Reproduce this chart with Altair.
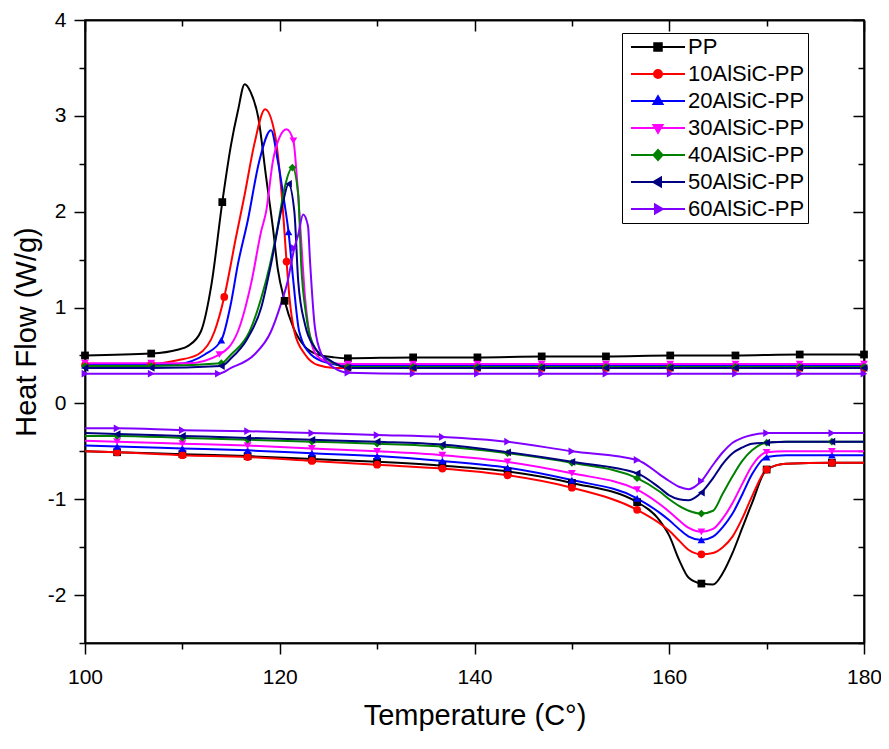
import altair as alt
import pandas as pd

FONT = "Liberation Sans"

SERIES = ["PP", "10AlSiC-PP", "20AlSiC-PP", "30AlSiC-PP", "40AlSiC-PP", "50AlSiC-PP", "60AlSiC-PP"]
COLORS = ["#000000", "#ff0000", "#0000ff", "#ff00ff", "#008000", "#000080", "#8000ff"]
SHAPES = ["square", "circle", "triangle-up", "triangle-down", "diamond", "triangle-left", "triangle-right"]
LEGEND_SYMBOLS = [
    "M-5.4,0H5.4M-0.75,-0.75H0.75V0.75H-0.75Z",
    "M-5.4,0H5.4M0.8,0A0.8,0.8,0,1,1,-0.8,0A0.8,0.8,0,1,1,0.8,0Z",
    "M-5.4,0H5.4M0,-0.95L0.9,0.6H-0.9Z",
    "M-5.4,0H5.4M0,0.95L0.9,-0.6H-0.9Z",
    "M-5.4,0H5.4M0,-1L0.9,0L0,1L-0.9,0Z",
    "M-5.4,0H5.4M-0.95,0L0.6,-0.9V0.9Z",
    "M-5.4,0H5.4M0.95,0L-0.6,-0.9V0.9Z",
]

X_MAJOR = [100, 120, 140, 160, 180]
X_MINOR = [110, 130, 150, 170]
Y_MAJOR = [-2, -1, 0, 1, 2, 3, 4]
Y_MINOR = [-2.5, -1.5, -0.5, 0.5, 1.5, 2.5, 3.5]

# ---- crystallization (upper) branch ----
TAIL_X = [127.0, 133.7, 140.3, 146.9, 153.5, 160.1, 166.8, 173.4, 180.0]

PP_UP_X = [100.0, 106.8, 109.5, 110.6, 111.9, 113.0, 114.1, 115.0, 115.7, 116.4, 117.0, 117.8, 118.6, 119.3, 119.8, 120.5, 121.4, 122.6, 123.9, 125.6] + TAIL_X
PP_UP_Y = [0.50, 0.52, 0.56, 0.60, 0.75, 1.25, 2.10, 2.70, 3.05, 3.33, 3.25, 2.98, 2.36, 1.83, 1.40, 1.07, 0.79, 0.59, 0.51, 0.48,
           0.47, 0.48, 0.48, 0.49, 0.49, 0.50, 0.50, 0.51, 0.51]

R10_UP_X = [100.0, 106.8, 109.5, 111.6, 113.3, 114.3, 115.5, 116.4, 117.4, 118.5, 119.5, 120.2, 120.7, 121.0, 121.5, 122.6, 123.9, 125.6] + TAIL_X
R10_UP_Y = [0.40, 0.41, 0.45, 0.51, 0.75, 1.11, 1.73, 2.18, 2.71, 3.07, 2.81, 2.18, 1.48, 1.10, 0.75, 0.51, 0.40, 0.37,
            0.37, 0.37, 0.37, 0.37, 0.37, 0.37, 0.37, 0.37, 0.37]

R20_UP_X = [100.0, 106.8, 109.5, 112.3, 114.0, 115.0, 115.7, 116.7, 117.9, 119.1, 119.8, 120.5, 120.9, 121.4, 122.0, 123.2, 125.0] + TAIL_X
R20_UP_Y = [0.40, 0.40, 0.41, 0.51, 0.66, 1.05, 1.45, 1.90, 2.53, 2.85, 2.53, 2.08, 1.79, 1.27, 0.75, 0.51, 0.42,
            0.39, 0.39, 0.39, 0.39, 0.39, 0.39, 0.39, 0.39, 0.39]

R30_UP_X = [100.0, 106.8, 110.6, 113.8, 115.7, 117.1, 118.1, 118.6, 119.3, 120.0, 120.7, 121.4, 121.8, 122.2, 122.6, 123.1, 123.8, 125.0] + TAIL_X
R30_UP_Y = [0.42, 0.42, 0.42, 0.51, 0.75, 1.27, 1.80, 2.00, 2.53, 2.78, 2.86, 2.74, 2.30, 1.70, 1.10, 0.70, 0.50, 0.43,
            0.41, 0.41, 0.41, 0.41, 0.41, 0.41, 0.41, 0.41, 0.41]

R40_UP_X = [100.0, 106.8, 114.0, 115.0, 116.9, 118.1, 119.0, 119.8, 120.5, 121.3, 121.9, 122.2, 122.7, 123.6, 125.0] + TAIL_X
R40_UP_Y = [0.39, 0.39, 0.42, 0.51, 0.75, 1.10, 1.45, 1.85, 2.25, 2.46, 2.18, 1.45, 0.93, 0.58, 0.45,
            0.38, 0.38, 0.38, 0.38, 0.38, 0.38, 0.38, 0.38, 0.38]

R50_UP_X = [100.0, 106.8, 114.0, 115.0, 116.7, 118.1, 119.1, 120.3, 120.9, 121.5, 121.9, 122.6, 123.6, 125.0] + TAIL_X
R50_UP_Y = [0.37, 0.37, 0.39, 0.47, 0.68, 1.00, 1.45, 2.08, 2.29, 2.00, 1.27, 0.82, 0.58, 0.46,
            0.37, 0.37, 0.37, 0.37, 0.37, 0.37, 0.37, 0.37, 0.37]

R60_UP_X = [100.0, 106.8, 113.7, 115.0, 117.4, 119.1, 120.1, 120.8, 121.5, 121.9, 122.4, 122.9, 123.1, 123.6, 124.3, 125.6] + TAIL_X
R60_UP_Y = [0.31, 0.31, 0.31, 0.37, 0.51, 0.75, 1.03, 1.27, 1.62, 1.76, 1.97, 1.85, 1.50, 0.80, 0.51, 0.37,
            0.32, 0.31, 0.31, 0.31, 0.31, 0.31, 0.31, 0.31, 0.31]

UP_MARK_COMMON = [100.0, 106.8] + TAIL_X
UP_MARK_2 = [114.1, 114.3, 114.0, 113.8, 114.0, 114.0, 113.7]
UP_MARK_3 = [120.5, 120.7, 120.9, 121.4, 121.3, 120.9, 121.5]

# ---- melting (lower) branch ----
LOW_X = [100.0, 103.3, 110.0, 116.7, 123.3, 130.0, 136.7, 143.4, 150.0, 156.7, 159.0, 160.0, 161.0, 162.0,
         163.3, 164.5, 165.5, 166.5, 167.5, 168.5, 170.0, 172.0, 176.7, 180.0]
PP_LOW_Y = [-0.50, -0.51, -0.53, -0.55, -0.58, -0.61, -0.65, -0.71, -0.83, -1.03, -1.22, -1.38, -1.63, -1.82,
            -1.88, -1.89, -1.77, -1.56, -1.30, -1.04, -0.69, -0.63, -0.62, -0.62]
R10_LOW_Y = [-0.50, -0.51, -0.54, -0.56, -0.60, -0.64, -0.68, -0.75, -0.88, -1.11, -1.25, -1.33, -1.43, -1.53,
             -1.575, -1.56, -1.50, -1.39, -1.20, -0.97, -0.69, -0.63, -0.62, -0.62]
R20_LOW_Y = [-0.44, -0.45, -0.47, -0.49, -0.52, -0.55, -0.60, -0.67, -0.80, -0.99, -1.14, -1.22, -1.31, -1.39,
             -1.425, -1.39, -1.29, -1.15, -0.95, -0.74, -0.56, -0.54, -0.54, -0.54]
R30_LOW_Y = [-0.39, -0.40, -0.42, -0.44, -0.47, -0.50, -0.54, -0.61, -0.73, -0.90, -1.05, -1.13, -1.22, -1.30,
             -1.34, -1.31, -1.20, -1.04, -0.84, -0.65, -0.51, -0.50, -0.50, -0.50]
R40_LOW_Y = [-0.34, -0.34, -0.36, -0.38, -0.40, -0.42, -0.45, -0.52, -0.62, -0.78, -0.92, -1.00, -1.07, -1.12,
             -1.15, -1.12, -0.94, -0.76, -0.60, -0.49, -0.41, -0.40, -0.40, -0.40]
R50_LOW_Y = [-0.31, -0.32, -0.34, -0.36, -0.38, -0.40, -0.43, -0.51, -0.61, -0.73, -0.88, -0.96, -1.00, -1.01,
             -0.93, -0.78, -0.63, -0.52, -0.46, -0.42, -0.41, -0.40, -0.40, -0.40]
R60_LOW_Y = [-0.26, -0.26, -0.28, -0.29, -0.31, -0.33, -0.35, -0.40, -0.50, -0.59, -0.74, -0.81, -0.87, -0.895,
             -0.81, -0.64, -0.51, -0.41, -0.36, -0.33, -0.31, -0.31, -0.31, -0.31]
LOW_MARK = [103.3, 110.0, 116.7, 123.3, 130.0, 136.7, 143.4, 150.0, 156.7, 163.3, 170.0, 176.7]

UP_X = [PP_UP_X, R10_UP_X, R20_UP_X, R30_UP_X, R40_UP_X, R50_UP_X, R60_UP_X]
UP_Y = [PP_UP_Y, R10_UP_Y, R20_UP_Y, R30_UP_Y, R40_UP_Y, R50_UP_Y, R60_UP_Y]
LOW_Y = [PP_LOW_Y, R10_LOW_Y, R20_LOW_Y, R30_LOW_Y, R40_LOW_Y, R50_LOW_Y, R60_LOW_Y]

rows = []
for i, s in enumerate(SERIES):
    umarks = set(round(v, 1) for v in UP_MARK_COMMON + [UP_MARK_2[i], UP_MARK_3[i]])
    for x, y in zip(UP_X[i], UP_Y[i]):
        rows.append(dict(series=s, branch=s + "-c", x=x, y=y, m=round(x, 1) in umarks))
    lmarks = set(round(v, 1) for v in LOW_MARK)
    for x, y in zip(LOW_X, LOW_Y[i]):
        rows.append(dict(series=s, branch=s + "-h", x=x, y=y, m=round(x, 1) in lmarks))
df = pd.DataFrame(rows)

W, H = 779, 623

xscale = alt.Scale(domain=[100, 180], nice=False, zero=False)
yscale = alt.Scale(domain=[-2.5, 4], nice=False, zero=False)
color_scale = alt.Scale(domain=SERIES, range=COLORS)

common_axis = dict(domainColor="black", domainWidth=1.5, tickColor="black", tickWidth=1.5, grid=False)
MAJOR, MINOR = 11, 6

x_main = alt.Axis(values=X_MAJOR, orient="bottom", tickSize=MAJOR, format="d",
                  title="Temperature (C\u00b0)", titleFont=FONT, titleFontSize=29, titleFontWeight="normal",
                  titleColor="black", titlePadding=14,
                  labelFont=FONT, labelFontSize=21, labelColor="black", labelPadding=12,
                  labelFlush=False, labelOverlap=False, **common_axis)
y_main = alt.Axis(values=Y_MAJOR, orient="left", tickSize=MAJOR,
                  labelExpr="replace(format(datum.value, 'd'), '\u2212', '-')",
                  title="Heat Flow (W/g)", titleFont=FONT, titleFontSize=29, titleFontWeight="normal",
                  titleColor="black", titlePadding=6,
                  labelFont=FONT, labelFontSize=21, labelColor="black", labelPadding=8,
                  labelFlush=False, labelOverlap=False, **common_axis)
x_mirror = alt.Axis(values=X_MAJOR, orient="bottom", offset=-H, labels=False, title=None, tickSize=MAJOR, **common_axis)
y_mirror = alt.Axis(values=Y_MAJOR, orient="left", offset=-W, labels=False, title=None, tickSize=MAJOR, **common_axis)
x_minor = alt.Axis(values=X_MINOR, orient="bottom", labels=False, title=None, tickSize=MINOR, **common_axis)
y_minor = alt.Axis(values=Y_MINOR, orient="left", labels=False, title=None, tickSize=MINOR, **common_axis)
x_minor_m = alt.Axis(values=X_MINOR, orient="bottom", offset=-H, labels=False, title=None, tickSize=MINOR, **common_axis)
y_minor_m = alt.Axis(values=Y_MINOR, orient="left", offset=-W, labels=False, title=None, tickSize=MINOR, **common_axis)

base = alt.Chart(df)

lines = base.mark_line(strokeWidth=2, interpolate="monotone").encode(
    x=alt.X("x:Q", scale=xscale, axis=x_main),
    y=alt.Y("y:Q", scale=yscale, axis=y_main),
    color=alt.Color("series:N", scale=color_scale, legend=None),
    detail="branch:N",
)

points = base.transform_filter("datum.m").mark_point(filled=True, size=60, opacity=1).encode(
    x=alt.X("x:Q", scale=xscale, axis=x_mirror),
    y=alt.Y("y:Q", scale=yscale, axis=y_mirror),
    color=alt.Color("series:N", scale=color_scale, legend=None),
    shape=alt.Shape("series:N", scale=alt.Scale(domain=SERIES, range=SHAPES), legend=None),
)

def make_legend():
    return alt.Legend(title=None, orient="none", legendX=537, legendY=13, padding=3,
                      strokeColor="black", fillColor="white",
                      labelFont=FONT, labelFontSize=22, labelColor="black",
                      symbolSize=100, symbolStrokeWidth=2, symbolOffset=22, labelOffset=19,
                      rowPadding=5, symbolOpacity=1)

legend_layer = base.transform_filter("false").mark_point(filled=True, opacity=1).encode(
    x=alt.X("x:Q", scale=xscale, axis=x_minor),
    y=alt.Y("y:Q", scale=yscale, axis=y_minor),
    fill=alt.Fill("series:N", scale=alt.Scale(domain=SERIES, range=COLORS), legend=make_legend()),
    stroke=alt.Stroke("series:N", scale=alt.Scale(domain=SERIES, range=COLORS), legend=make_legend()),
    shape=alt.Shape("series:N", scale=alt.Scale(domain=SERIES, range=LEGEND_SYMBOLS), legend=make_legend()),
)

minor_mirror = base.transform_filter("false").mark_point(opacity=0).encode(
    x=alt.X("x:Q", scale=xscale, axis=x_minor_m),
    y=alt.Y("y:Q", scale=yscale, axis=y_minor_m),
)

chart = alt.layer(lines, points, legend_layer, minor_mirror).resolve_scale(
    shape="independent", fill="independent", stroke="independent"
).resolve_axis(
    x="independent", y="independent"
).properties(
    width=W, height=H,
    autosize=alt.AutoSizeParams(type="none"),
    padding={"left": 77, "top": 12, "right": 17, "bottom": 90},
).configure_view(stroke="black", strokeWidth=1.5)

chart.save("out.html", embed_options={"renderer": "svg", "actions": False})
